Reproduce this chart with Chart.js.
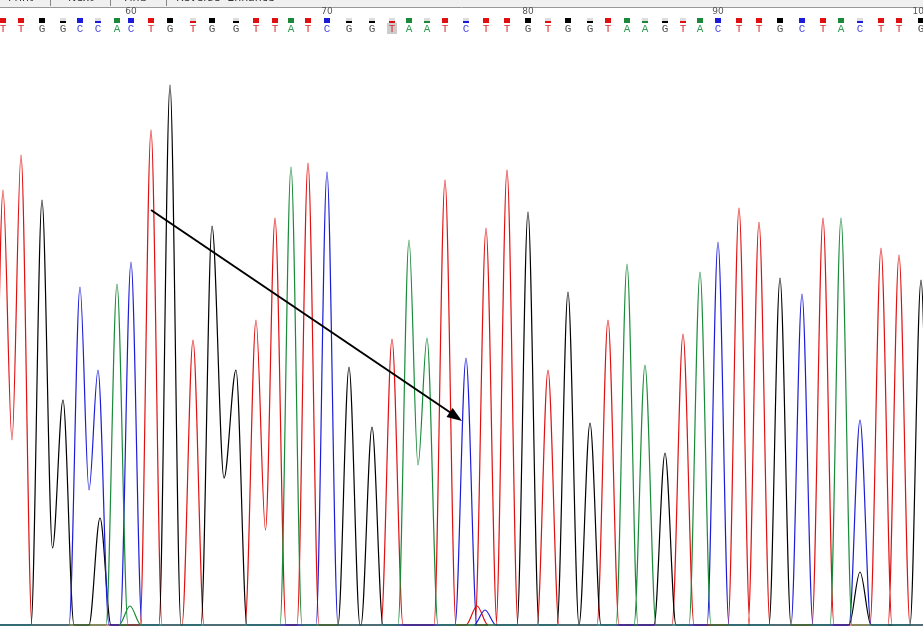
<!DOCTYPE html>
<html><head><meta charset="utf-8">
<script src="https://cdn.jsdelivr.net/npm/chart.js@4"></script>
<style>body{margin:0;background:#fff}#wrap{width:923px;height:633px}</style>
</head><body><div id="wrap"><canvas id="trace"></canvas></div>
<script>
// base calls 53..100, x is scan position (same as pixel here), h is peak height
var baseCalls = ["T","T","G","G","C","C","A","C","T","G","T","G","G","T","T","A","T","C","G","G","T","A","A","T","C","T","T","G","T","G","G","T","A","A","G","T","A","C","T","T","G","C","T","A","C","T","T","G"];
var peakX = [3,21,42,63,80,98,117,131,151,170,193,212,236,256,275,291,308,327,349,372,392,409,427,445,466,486,507,528,548,568,590,608,627,645,665,683,700,718,739,759,780,802,823,841,860,881,899,921];
var peakH = [438,473,428,228,341,258,344,366,498,543,288,402,258,308,410,461,465,456,261,201,289,388,290,448,270,400,458,416,258,336,205,308,364,263,175,294,356,386,420,406,350,334,410,410,208,380,373,348];
// valley height after a base when the next base has the same colour
var valleyH = [188,null,80,null,138,null,null,null,null,null,null,150,null,98,null,null,null,null,null,60,null,163,null,null,null,null,108,null,null,null,30,null,null,128,null,null,null,null,null,98,null,null,null,null,null,null,68,null];
// small secondary peaks
var minorBase = ["G","G","A","T","C"];
var minorX = [100,860,130,477,485];
var minorH = [110,56,22,22,18];
var firstPos = 53;
var colours = {A:"#1a8a3a",C:"#1c1cd8",G:"#000000",T:"#e01010"};
var letterColours = {A:"#2e9a4e",C:"#4a4ae0",G:"#555555",T:"#e03030"};

function traceFor(b) {
  var pts = [{x:-20,y:3}];
  var peaks = [];
  baseCalls.forEach(function(c,i){ if (c==b) peaks.push({x:peakX[i],h:peakH[i],v:valleyH[i]}); });
  minorBase.forEach(function(c,i){ if (c==b) peaks.push({x:minorX[i],h:minorH[i],v:null}); });
  peaks.sort(function(p,q){return p.x-q.x;});
  peaks.forEach(function(p,i){
    var prev = peaks[i-1];
    if (!(prev && prev.v!=null && p.x-prev.x<30)) pts.push({x:p.x-11,y:3});
    pts.push({x:p.x,y:p.h});
    var next = peaks[i+1];
    if (next && p.v!=null && next.x-p.x<30) pts.push({x:(p.x+next.x)/2,y:p.v});
    else pts.push({x:p.x+11,y:3});
  });
  pts.push({x:950,y:3});
  return pts;
}

var datasets = ["A","C","G","T"].map(function(b){
  return {label:b,data:traceFor(b),borderColor:colours[b],borderWidth:1.2,pointRadius:0,
          fill:false,cubicInterpolationMode:"monotone"};
});

var header = {
  id:"header",
  afterDraw:function(chart){
    var ctx = chart.ctx, xs = chart.scales.x;
    ctx.save();
    ctx.fillStyle="#f0f0f0"; ctx.fillRect(0,0,923,7);
    ctx.strokeStyle="#999"; ctx.beginPath(); ctx.moveTo(0,7.5); ctx.lineTo(923,7.5); ctx.stroke();
    ctx.fillStyle="#333"; ctx.font="11px 'DejaVu Sans'"; ctx.textBaseline="bottom";
    ctx.fillText("Print",8,4); ctx.fillText("Next",68,4); ctx.fillText("Find",124,4); ctx.fillText("Reverse  Enhance",176,4);
    ctx.strokeStyle="#888"; [50,110,166].forEach(function(x){ctx.beginPath();ctx.moveTo(x+.5,0);ctx.lineTo(x+.5,6);ctx.stroke();});
    ctx.textAlign="center";
    baseCalls.forEach(function(c,i){
      var x = xs.getPixelForValue(peakX[i]);
      var pos = firstPos+i;
      var low = peakH[i]<300;
      if (pos%10==0) { ctx.fillStyle="#555"; ctx.font="9px 'DejaVu Sans'"; ctx.textBaseline="middle"; ctx.fillText(String(pos),x,12); }
      if (low) {
        ctx.fillStyle="#ddd"; ctx.fillRect(x-3,18,6,5);
        ctx.fillStyle=colours[c]; ctx.fillRect(x-3,21,6,2);
      } else { ctx.fillStyle=colours[c]; ctx.fillRect(x-3,18,6,5); }
      if (pos==73) { ctx.fillStyle="#ccc"; ctx.fillRect(x-5,23,10,11); }
      ctx.fillStyle=letterColours[c]; ctx.font="11px 'Liberation Mono'"; ctx.textBaseline="middle";
      ctx.fillText(c,x,29);
    });
    // arrow
    var ys = chart.scales.y;
    var x1=xs.getPixelForValue(151), y1=ys.getPixelForValue(418), x2=xs.getPixelForValue(462), y2=ys.getPixelForValue(207);
    ctx.strokeStyle="#000"; ctx.lineWidth=2; ctx.beginPath(); ctx.moveTo(x1,y1); ctx.lineTo(x2-8,y2-6); ctx.stroke();
    var a=Math.atan2(y2-y1,x2-x1);
    ctx.fillStyle="#000"; ctx.beginPath(); ctx.moveTo(x2,y2);
    ctx.lineTo(x2-16*Math.cos(a-0.35),y2-16*Math.sin(a-0.35));
    ctx.lineTo(x2-16*Math.cos(a+0.35),y2-16*Math.sin(a+0.35)); ctx.closePath(); ctx.fill();
    ctx.restore();
  }
};

new Chart(document.getElementById("trace"), {
  type:"line",
  data:{datasets:datasets},
  options:{
    responsive:true, maintainAspectRatio:false, animation:false,
    layout:{padding:{top:40,bottom:5,left:0,right:0}},
    plugins:{legend:{display:false},tooltip:{enabled:false}},
    scales:{
      x:{type:"linear",min:0,max:923,display:false},
      y:{min:0,max:588,display:false}
    }
  },
  plugins:[header]
});
</script></body></html>
